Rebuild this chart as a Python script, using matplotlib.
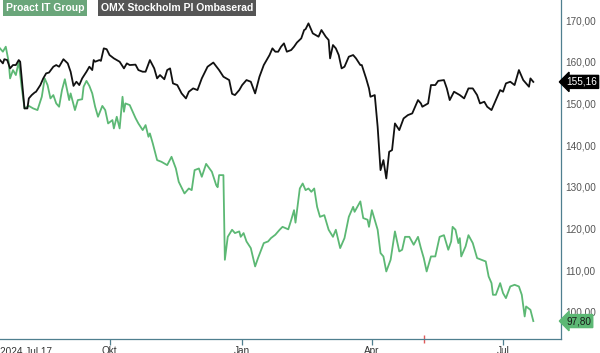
import datetime as dt
import matplotlib
matplotlib.use("Agg")
import matplotlib.pyplot as plt
import matplotlib.dates as mdates

plt.rcParams['font.family'] = ['Liberation Sans', 'DejaVu Sans']

start = dt.date(2024, 7, 17)

# days since start, values (OMX Stockholm PI, rebased)
omx_days = [0, 2, 3, 5, 7, 9, 11, 13, 14, 17, 19, 20, 22, 24, 25, 28, 30, 32, 34, 37, 39, 41, 43, 44, 47,
            49, 51, 53, 55, 57, 60, 62, 64, 65, 66, 69, 70, 72, 74, 76, 79, 81, 83, 86, 88, 90, 94, 96, 99,
            101, 104, 107, 109, 111, 114, 116, 118, 120, 123, 126, 129, 131, 134, 137, 140, 144, 148, 152,
            155, 159, 161, 163, 166, 168, 171, 174, 177, 180, 183, 185, 187, 189, 191, 193, 195, 197, 199,
            202, 204, 206, 209, 211, 212, 214, 217, 219, 221, 223, 226, 228, 229, 231, 233, 235, 237, 239,
            242, 245, 247, 250, 251, 254, 256, 257, 260, 262, 264, 266, 268, 270, 272, 274, 277, 280, 283,
            286, 287, 290, 292, 293, 297, 299, 302, 304, 308, 310, 312, 315, 319, 322, 325, 328, 331, 333,
            336, 338, 341, 343, 347, 349, 351, 354, 357, 360, 363, 364, 367, 368, 370]
omx_vals = [160.4, 159.6, 160.6, 160.4, 158.4, 159.2, 159.2, 160.4, 160.0, 148.8, 148.8, 151.2, 152.0,
            152.6, 152.8, 154.4, 156.0, 157.2, 157.4, 158.8, 159.2, 158.8, 160.0, 160.6, 159.6, 157.6,
            154.2, 155.2, 154.4, 156.0, 157.6, 158.8, 158.0, 160.4, 160.0, 160.4, 160.2, 163.2, 163.0,
            161.6, 160.8, 160.4, 160.0, 158.4, 159.6, 159.2, 159.3, 158.0, 157.6, 157.6, 160.4, 158.4,
            156.0, 156.8, 155.8, 158.0, 158.4, 154.8, 154.4, 152.4, 151.2, 152.8, 153.6, 153.2, 156.0,
            158.8, 159.8, 158.0, 156.4, 155.6, 152.3, 152.0, 153.2, 154.4, 155.6, 155.2, 152.4, 156.4,
            159.2, 160.4, 161.6, 163.2, 162.4, 162.4, 163.6, 164.4, 162.4, 162.8, 163.6, 164.6, 165.6,
            167.6, 167.8, 169.2, 166.8, 166.4, 166.0, 167.6, 166.0, 165.2, 160.8, 164.0, 163.2, 161.6,
            158.4, 158.8, 161.2, 161.6, 160.8, 159.2, 159.2, 156.0, 153.6, 151.6, 152.0, 144.4, 134.0,
            136.4, 132.0, 138.4, 138.8, 145.2, 143.6, 146.4, 147.2, 147.6, 148.4, 150.8, 150.0, 149.2,
            150.0, 154.4, 154.4, 155.4, 155.6, 153.6, 150.8, 152.8, 152.0, 151.2, 153.6, 153.6, 152.0,
            150.0, 150.4, 149.2, 148.4, 150.0, 153.2, 152.8, 154.8, 155.2, 154.4, 158.0, 155.6, 155.2,
            154.0, 156.0, 155.16]

# Proact IT Group
pro_days = [0, 2, 4, 6, 7, 9, 11, 12, 13, 15, 17, 20, 23, 26, 29, 31, 33, 35, 37, 39, 41, 43, 45, 47, 48,
            49, 52, 54, 57, 58, 60, 62, 64, 66, 68, 71, 73, 75, 78, 79, 81, 83, 85, 86, 87, 90, 94, 96, 99,
            101, 103, 104, 106, 109, 112, 116, 119, 122, 124, 128, 131, 133, 135, 138, 140, 143, 147, 150,
            151, 152, 155, 156, 158, 161, 163, 166, 167, 169, 171, 174, 177, 179, 183, 186, 188, 191, 194,
            196, 200, 202, 204, 205, 208, 210, 212, 214, 216, 218, 220, 222, 225, 228, 231, 233, 236, 239,
            242, 245, 246, 250, 252, 255, 256, 258, 262, 264, 266, 268, 271, 274, 277, 279, 281, 284, 287,
            290, 292, 294, 296, 297, 299, 302, 305, 308, 311, 313, 314, 316, 318, 319, 320, 323, 325, 328,
            331, 334, 337, 339, 341, 342, 344, 347, 349, 351, 354, 357, 360, 362, 364, 365, 368, 370]
pro_vals = [163.2, 162.4, 163.6, 160.0, 156.0, 158.0, 156.8, 158.4, 160.0, 154.0, 148.8, 149.4, 148.8,
            148.4, 151.6, 156.0, 154.4, 151.2, 152.0, 150.0, 149.2, 153.2, 155.8, 152.4, 150.8, 152.4,
            148.4, 150.8, 151.0, 154.0, 155.4, 154.2, 152.4, 149.2, 146.8, 149.4, 148.4, 145.2, 146.0,
            144.0, 146.8, 144.0, 151.6, 148.0, 150.0, 149.6, 146.5, 145.2, 143.6, 144.8, 142.0, 142.8,
            140.4, 136.4, 136.0, 135.2, 137.2, 134.4, 131.2, 128.4, 129.6, 129.2, 134.0, 134.4, 132.4,
            135.5, 133.6, 130.4, 129.9, 132.8, 132.8, 112.5, 118.0, 119.7, 118.9, 119.3, 118.0, 118.9,
            116.9, 115.3, 110.9, 112.9, 116.5, 116.9, 117.7, 118.5, 119.7, 120.4, 119.8, 122.0, 124.4,
            121.4, 129.6, 130.8, 129.2, 129.6, 128.8, 129.6, 125.2, 122.8, 123.2, 119.7, 118.0, 119.7,
            115.3, 117.7, 122.8, 125.2, 124.0, 126.5, 122.5, 122.1, 120.4, 124.4, 119.7, 114.1, 113.3,
            109.7, 112.5, 119.3, 114.5, 114.9, 118.0, 118.0, 116.1, 118.0, 115.3, 112.9, 109.7, 110.9,
            113.3, 113.3, 118.0, 118.4, 114.9, 116.9, 120.4, 119.7, 116.5, 117.7, 113.3, 115.7, 118.4,
            116.5, 112.9, 112.5, 112.1, 108.5, 106.9, 104.1, 104.1, 106.9, 104.5, 103.3, 106.1, 106.5,
            106.1, 104.1, 98.9, 101.3, 100.5, 97.8]

series_names = ["Proact IT Group", "OMX Stockholm PI Ombaserad"]
tick_dates = [dt.date(2024, 10, 1), dt.date(2025, 1, 1), dt.date(2025, 4, 1), dt.date(2025, 7, 1)]
tick_labels = ["Okt", "Jan", "Apr", "Jul"]
first_label = "2024 Jul 17"
yticks = [100, 110, 120, 130, 140, 150, 160, 170]
marker_date = dt.date(2025, 5, 7)
end_day = 389

GREEN = "#5cb874"
AXC = "#4f7f8f"

omx_x = [start + dt.timedelta(days=d) for d in omx_days]
pro_x = [start + dt.timedelta(days=d) for d in pro_days]

fig = plt.figure(figsize=(6.0, 3.53), dpi=100)
ax = fig.add_axes([0.0, 14 / 353, 560.7 / 600, 1 - 14 / 353])

ax.plot(pro_x, pro_vals, color=GREEN, lw=1.3, solid_joinstyle='round')
ax.plot(omx_x, omx_vals, color="#111111", lw=1.3, solid_joinstyle='round')

ax.set_xlim(mdates.date2num(start), mdates.date2num(start + dt.timedelta(days=end_day)))
ax.set_ylim(93.5, 174.8)

for s in ["top", "left"]:
    ax.spines[s].set_visible(False)
ax.spines["bottom"].set_color(AXC)
ax.spines["right"].set_color(AXC)
ax.spines["bottom"].set_linewidth(0.9)
ax.spines["right"].set_linewidth(0.9)

ax.set_xticks([mdates.date2num(d) for d in tick_dates])
ax.set_xticklabels(tick_labels)
ax.tick_params(axis='x', direction='out', length=4, width=0.9, color=AXC,
               labelsize=7.2, labelcolor="#333333", pad=1)

ax.yaxis.tick_right()
ax.set_yticks(yticks)
ax.set_yticklabels([f"{v:.2f}".replace(".", ",") for v in yticks])
ax.tick_params(axis='y', length=0, labelsize=7.2, labelcolor="#555555", pad=3)

# first date label
ax.annotate(first_label, xy=(0, 0), xycoords='axes fraction', xytext=(0, -6),
            textcoords='offset points', ha='left', va='top', fontsize=7.2, color="#333333")

# red marker tick below axis
ax.plot([mdates.date2num(marker_date)], [0], transform=ax.get_xaxis_transform(),
        marker='|', markersize=6, color="#e05a5a", mew=1.0, clip_on=False)

# price tags
ax.annotate(f"{omx_vals[-1]:.2f}".replace(".", ","), xy=(1.0, omx_vals[-1]),
            xycoords=('axes fraction', 'data'), xytext=(4, 0), textcoords='offset points',
            ha='left', va='center', fontsize=7.2, color="white",
            bbox=dict(boxstyle='larrow,pad=0.15', fc="black", ec="black"), annotation_clip=False)
ax.annotate(f"{pro_vals[-1]:.2f}".replace(".", ","), xy=(1.0, pro_vals[-1]),
            xycoords=('axes fraction', 'data'), xytext=(4, 0), textcoords='offset points',
            ha='left', va='center', fontsize=7.2, color="#1a1a1a",
            bbox=dict(boxstyle='larrow,pad=0.15', fc=GREEN, ec=GREEN), annotation_clip=False)

# legend boxes
fig.text(6 / 600, 1 - 8 / 353, series_names[0], ha='left', va='center', fontsize=7.5,
         fontweight='bold', color="white",
         bbox=dict(boxstyle='square,pad=0.25', fc="#6aa67a", ec="none"))
fig.text(101 / 600, 1 - 8 / 353, series_names[1], ha='left', va='center', fontsize=7.5,
         fontweight='bold', color="white",
         bbox=dict(boxstyle='square,pad=0.25', fc="#555555", ec="none"))

fig.savefig("out.png", dpi=100)
